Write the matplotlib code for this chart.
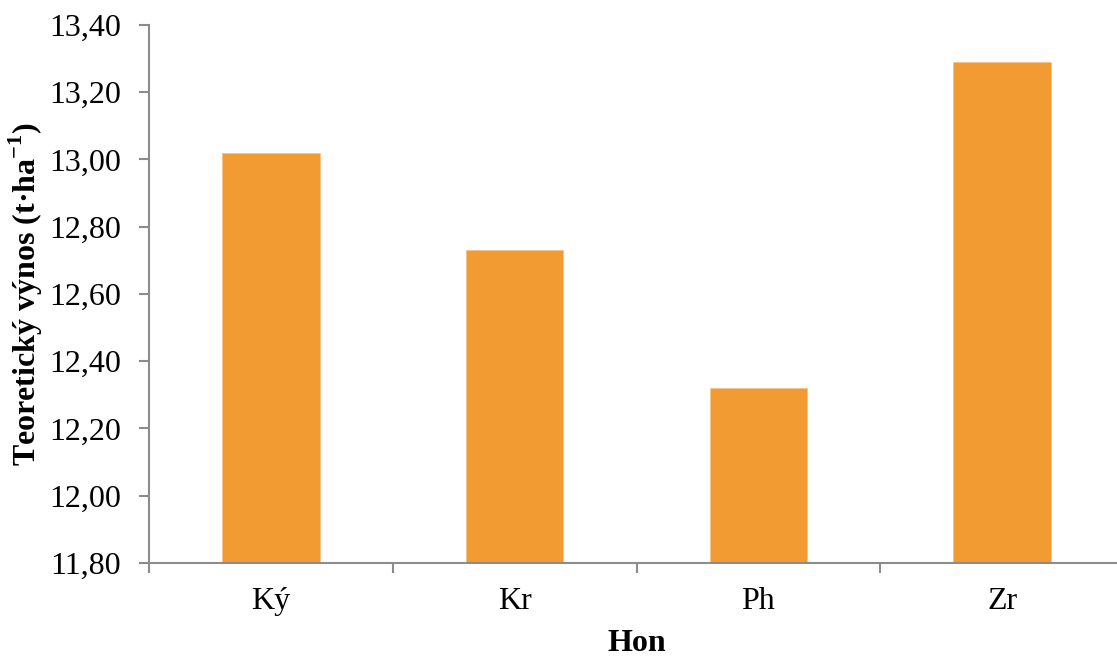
import matplotlib
matplotlib.use("Agg")

import matplotlib.pyplot as plt
import matplotlib.ticker as mticker

# ── Data ─────────────────────────────────────────────────────────────────────
hony = ["Ký", "Kr", "Ph", "Zr"]
vynos = [13.02, 12.73, 12.32, 13.29]   # t·ha-1
y_ticks = [11.80, 12.00, 12.20, 12.40, 12.60, 12.80, 13.00, 13.20, 13.40]

# ── Style ────────────────────────────────────────────────────────────────────
COLOR_BAR = "#F29B33"
COLOR_AXIS = "#8C8C8C"
FONT = "Liberation Serif"
FS = 23

plt.rcParams["font.family"] = [FONT, "DejaVu Serif"]
plt.rcParams["mathtext.fontset"] = "custom"
plt.rcParams["mathtext.rm"] = FONT
plt.rcParams["mathtext.bf"] = FONT + ":bold"

fig = plt.figure(figsize=(11.17, 6.58), dpi=100, facecolor="white")
# axes run slightly past the right edge of the figure (cropped like the source)
ax = fig.add_axes([0.1334, 0.1444, 0.8729, 0.8176])

x = list(range(len(hony)))
ax.bar(x, vynos, width=0.4, color=COLOR_BAR, edgecolor="#F7C48A",
       linewidth=0.6, zorder=2)

ax.set_xlim(-0.5, len(hony) - 0.5)
ax.set_ylim(y_ticks[0], y_ticks[-1])
ax.set_yticks(y_ticks)
ax.yaxis.set_major_formatter(
    mticker.FuncFormatter(lambda v, _: f"{v:.2f}".replace(".", ",")))

# tick marks between categories, labels centred under the bars
ax.set_xticks([i - 0.5 for i in range(len(hony) + 1)])
ax.set_xticklabels([])
ax.set_xticks(x, minor=True)
ax.set_xticklabels(hony, minor=True)
ax.tick_params(axis="x", which="major", length=7, width=1.5,
               color=COLOR_AXIS, direction="out")
ax.tick_params(axis="x", which="minor", length=0, pad=17, labelsize=FS)
ax.tick_params(axis="y", length=7, width=1.5, color=COLOR_AXIS,
               direction="out", pad=13, labelsize=FS)

for side in ("top", "right"):
    ax.spines[side].set_visible(False)
for side in ("left", "bottom"):
    ax.spines[side].set_color(COLOR_AXIS)
    ax.spines[side].set_linewidth(1.5)

ax.set_ylabel(r"Teoretický výnos (t·ha$^{\mathbf{-1}}$)", fontsize=FS,
              fontweight="bold", labelpad=3)
ax.set_xlabel("Hon", fontsize=FS, fontweight="bold", labelpad=10)

fig.savefig("out.png", dpi=100, facecolor="white")
